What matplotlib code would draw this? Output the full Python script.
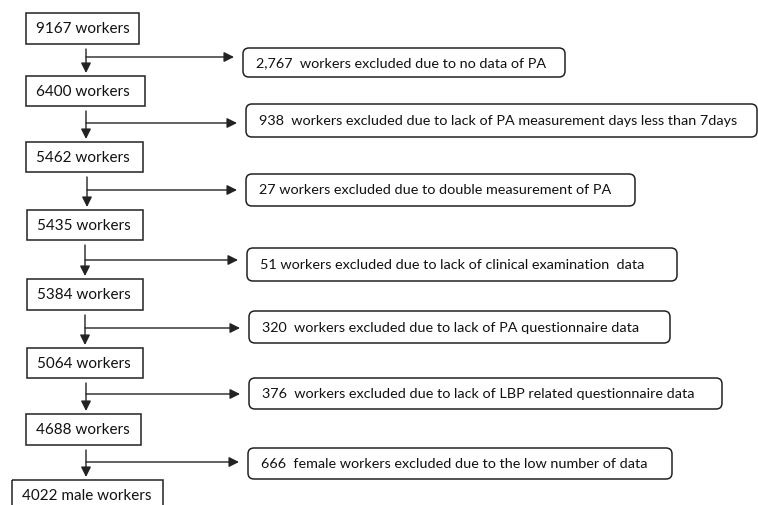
import matplotlib
matplotlib.use('Agg')
import matplotlib.pyplot as plt
from matplotlib.patches import Rectangle, FancyBboxPatch

plt.rcParams['font.family'] = ['Lato', 'DejaVu Sans']

##流程图数据
left_labels = ['9167 workers', '6400 workers', '5462 workers', '5435 workers',
               '5384 workers', '5064 workers', '4688 workers', '4022 male workers']
right_labels = ['2,767  workers excluded due to no data of PA',
                '938  workers excluded due to lack of PA measurement days less than 7days',
                '27 workers excluded due to double measurement of PA',
                '51 workers excluded due to lack of clinical examination  data',
                '320  workers excluded due to lack of PA questionnaire data',
                '376  workers excluded due to lack of LBP related questionnaire data',
                '666  female workers excluded due to the low number of data']

##布局 (像素)
left_box = [(26, 13, 139, 44), (26, 76, 145, 106), (26, 142, 143, 172), (27, 210, 143, 240),
            (27, 279, 143, 310), (27, 348, 143, 378), (26, 414, 141, 445), (12, 480, 163, 510)]
right_box = [(243, 48, 565, 77), (246, 104, 757, 137), (246, 174, 635, 206), (247, 248, 677, 281),
             (249, 311, 670, 343), (249, 378, 722, 409), (248, 448, 672, 479)]
arrow_x = [86, 86, 87, 85, 85, 86, 86]
arrow_y = [57, 123, 190, 260, 328, 394, 462]

fig = plt.figure(figsize=(7.58, 5.05), dpi=100)
ax = fig.add_axes([0, 0, 1, 1])
ax.set_xlim(0, 758)
ax.set_ylim(505, 0)
ax.axis('off')

col = '#222222'
for lab, (x0, y0, x1, y1) in zip(left_labels, left_box):
    ax.add_patch(Rectangle((x0, y0), x1 - x0, y1 - y0, fill=False, ec=col, lw=1.1))
    ty = (y0 + y1) / 2 + 0.5 if y1 <= 505 else y0 + 16
    ax.text(x0 + 10, ty, lab, va='center', ha='left', fontsize=11, color='#111111')

for lab, (x0, y0, x1, y1) in zip(right_labels, right_box):
    ax.add_patch(FancyBboxPatch((x0, y0), x1 - x0, y1 - y0,
                                boxstyle='round,pad=0,rounding_size=6',
                                fill=False, ec=col, lw=1.1))
    ax.text(x0 + 13, (y0 + y1) / 2 + 0.5, lab, va='center', ha='left',
            fontsize=10.4, color='#111111')

##箭头
for i in range(len(right_labels)):
    x = arrow_x[i]
    ytop = left_box[i][3] + 5
    ybot = left_box[i + 1][1] - 3
    ax.annotate('', xy=(x, ybot), xytext=(x, ytop),
                arrowprops=dict(arrowstyle='-|>,head_length=0.6,head_width=0.3',
                                color=col, lw=1.0, shrinkA=0, shrinkB=0))
    ax.annotate('', xy=(right_box[i][0] - 9, arrow_y[i]), xytext=(x, arrow_y[i]),
                arrowprops=dict(arrowstyle='-|>,head_length=0.6,head_width=0.3',
                                color=col, lw=1.0, shrinkA=0, shrinkB=0))

fig.savefig('out.png', dpi=100)
